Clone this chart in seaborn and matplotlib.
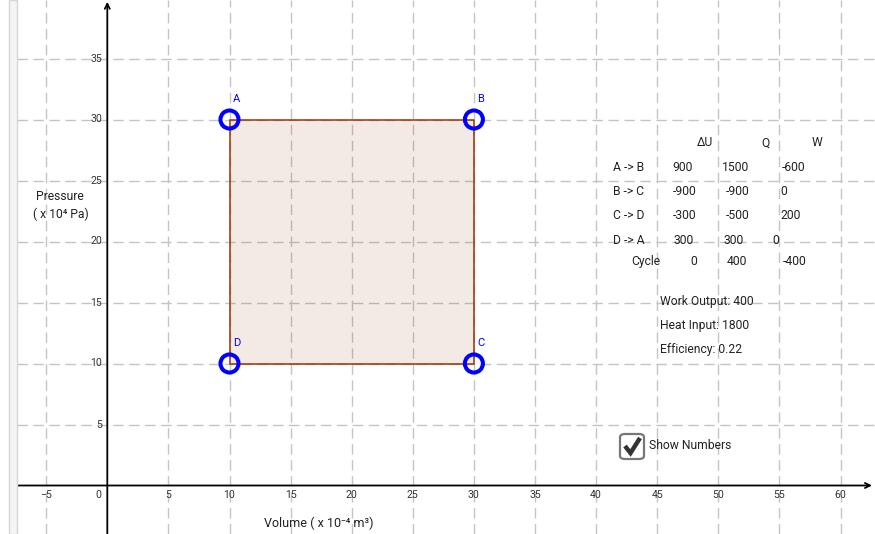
import matplotlib
matplotlib.use("Agg")
import matplotlib.pyplot as plt
import seaborn as sns
import pandas as pd
from matplotlib.patches import Rectangle, FancyBboxPatch
from matplotlib.lines import Line2D

# ---------------- data ----------------
volume = [10, 30, 30, 10]
pressure = [30, 30, 10, 10]
point_names = ["A", "B", "C", "D"]

x_ticks = [-5, 5, 10, 15, 20, 25, 30, 35, 40, 45, 50, 55, 60]
y_ticks = [5, 10, 15, 20, 25, 30, 35]

table_header = ["ΔU", "Q", "W"]
process_names = ["A -> B", "B -> C", "C -> D", "D -> A"]
delta_u = ["900", "-900", "-300", "300"]
heat_q = ["1500", "-900", "-500", "300"]
work_w = ["-600", "0", "200", "0"]
cycle_values = ["0", "400", "-400"]
summary_lines = ["Work Output: 400", "Heat Input: 1800", "Efficiency: 0.22"]

# ---------------- style ----------------
sns.set_theme(style="white")
plt.rcParams["font.family"] = ["Roboto", "DejaVu Sans"]

W, H = 875, 534
fig = plt.figure(figsize=(W / 100, H / 100), dpi=100)
left_px = 17
ax = fig.add_axes([left_px / W, 0, 1 - left_px / W, 1])

ppu_x, ppu_y = 12.22, 12.2
x0_px, y0_px = 107.3, 485.5
ax.set_xlim((left_px - x0_px) / ppu_x, (W - x0_px) / ppu_x)
ax.set_ylim(-(H - y0_px) / ppu_y, y0_px / ppu_y)
for s in ax.spines.values():
    s.set_visible(False)

ax.set_xticks(x_ticks)
ax.set_yticks(y_ticks)
ax.tick_params(length=0, labelbottom=False, labelleft=False)
ax.grid(True, color="#c4c4c4", linestyle=(0, (7.5, 4)), linewidth=1)

# left strip
fig.patches.append(Rectangle((8.5 / W, 0), 8 / W, 1, transform=fig.transFigure,
                             facecolor="#f5f5f5", edgecolor="#d6d6d6", linewidth=1))

# axes with arrows
x_lo, x_hi = ax.get_xlim()
y_lo, y_hi = ax.get_ylim()
ax.annotate("", xy=(x_hi - 0.25, 0), xytext=(x_lo, 0),
            arrowprops=dict(arrowstyle="->", color="black", lw=1.3, mutation_scale=9,
                            shrinkA=0, shrinkB=0), zorder=3)
ax.annotate("", xy=(0, y_hi - 0.15), xytext=(0, y_lo),
            arrowprops=dict(arrowstyle="->", color="black", lw=1.3, mutation_scale=9,
                            shrinkA=0, shrinkB=0), zorder=3)

# tick labels
tick_fs = 7.6
for xv in x_ticks:
    lab = str(xv).replace("-", "\u2212")
    ax.annotate(lab, (xv, 0), xytext=(0, -9.5 * 0.72), textcoords="offset points",
                ha="center", va="center", fontsize=tick_fs, color="#333333")
ax.annotate("0", (0, 0), xytext=(-9 * 0.72, -9.5 * 0.72), textcoords="offset points",
            ha="center", va="center", fontsize=tick_fs, color="#333333")
for yv in y_ticks:
    ax.annotate(str(yv), (0, yv), xytext=(-5 * 0.72, 0), textcoords="offset points",
                ha="right", va="center", fontsize=tick_fs, color="#333333")

# polygon
brown = (153 / 255, 51 / 255, 0)
ax.fill(volume, pressure, facecolor=brown, alpha=0.1, zorder=2)
ax.fill(volume, pressure, facecolor="none", edgecolor=brown, linewidth=1.1, zorder=2)

# points
df = pd.DataFrame({"V": volume, "P": pressure, "name": point_names})
sns.scatterplot(data=df, x="V", y="P", ax=ax, s=13 ** 2, marker="o",
                facecolor="none", edgecolor="#0000ff", linewidth=2.9, zorder=5, legend=False)
for v, p, n in zip(volume, pressure, point_names):
    ax.annotate(n, (v, p), xytext=(7 * 0.72, 21 * 0.72), textcoords="offset points",
                ha="center", va="center", fontsize=8, color="#0000ff")
ax.set_xlabel("")
ax.set_ylabel("")


def ftext(xp, yp, s, ha="left", fs=8.7, **kw):
    fig.text(xp / W, 1 - yp / H, s, ha=ha, va="center", fontsize=fs, color="#222222", **kw)


# axis titles
ftext(319, 523, "Volume ( x 10\u207b\u2074 m\u00b3)", ha="center", fs=9.0)
ftext(60, 196, "Pressure", ha="center", fs=8.7)
ftext(61, 214, "( x 10\u2074 Pa)", ha="center", fs=8.7)

# table
hdr_x = [705, 765, 817]
for xp, s in zip(hdr_x, table_header):
    ftext(xp, 143, s, ha="center")
row_y = [167.7, 191.7, 215.7, 241]
col_x = [[672.7, 721.7, 781.7], [672.7, 726, 780.7], [672.7, 726, 780.7], [673, 724, 772.7]]
for i, name in enumerate(process_names):
    ftext(612.7, row_y[i], name)
    for xp, s in zip(col_x[i], [delta_u[i], heat_q[i], work_w[i]]):
        ftext(xp, row_y[i], s)
ftext(631.7, 261.7, "Cycle")
for xp, s in zip([690, 727, 782.7], cycle_values):
    ftext(xp, 261.7, s)
for yp, s in zip([301.7, 326, 349], summary_lines):
    ftext(660.5, yp, s)

# checkbox
fig.patches.append(FancyBboxPatch((620 / W, 1 - 459 / H), 24 / W, 25 / H,
                                  boxstyle="round,pad=0,rounding_size=0.006",
                                  transform=fig.transFigure, facecolor="white",
                                  edgecolor="#777777", linewidth=1.6))
fig.lines.append(Line2D([625 / W, 630.5 / W, 640 / W], [1 - 446 / H, 1 - 453 / H, 1 - 438 / H],
                        transform=fig.transFigure, color="#333333", linewidth=3.2,
                        solid_capstyle="butt", solid_joinstyle="miter"))
ftext(649, 445.5, "Show Numbers", fs=8.7)

fig.savefig("out.png", dpi=100)
